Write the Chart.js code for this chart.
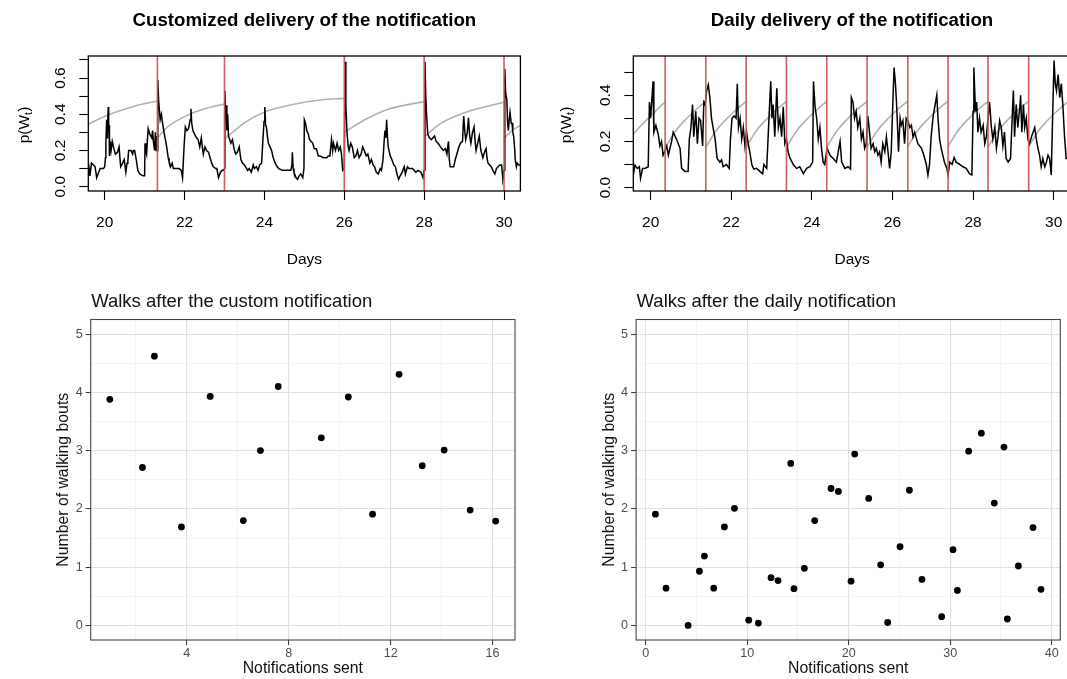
<!DOCTYPE html>
<html>
<head>
<meta charset="utf-8">
<title>Walking notifications</title>
<script src="https://cdn.jsdelivr.net/npm/chart.js@4.4.1/dist/chart.umd.min.js"></script>
<style>
  html, body { margin: 0; padding: 0; background: #fff; }
  body { position: relative; width: 1067px; height: 679px; overflow: hidden; }
  canvas { position: absolute; }
</style>
</head>
<body>
<canvas id="customProb" width="540" height="280" style="left:0;top:0"></canvas>
<canvas id="dailyProb" width="560" height="280" style="left:540px;top:0"></canvas>
<canvas id="customWalks" width="540" height="399" style="left:0;top:280px"></canvas>
<canvas id="dailyWalks" width="527" height="399" style="left:540px;top:280px"></canvas>
<script>
// === DATA ===
// p(W_t) with the customized schedule: [day, probability]
const customProb = [
  [19.59,0.07],[19.61,0.10],[19.63,0.06],[19.67,0.13],[19.72,0.12],[19.76,0.11],[19.80,0.05],[19.85,0.08],
  [19.89,0.10],[19.97,0.10],[20.00,0.11],[20.02,0.16],[20.03,0.25],[20.05,0.37],[20.06,0.27],[20.07,0.33],
  [20.09,0.44],[20.10,0.30],[20.11,0.34],[20.12,0.17],[20.14,0.25],[20.16,0.20],[20.19,0.25],[20.23,0.21],
  [20.27,0.18],[20.32,0.19],[20.36,0.22],[20.40,0.11],[20.45,0.13],[20.49,0.15],[20.53,0.08],[20.56,0.13],
  [20.58,0.14],[20.60,0.20],[20.66,0.20],[20.70,0.18],[20.72,0.20],[20.75,0.20],[20.79,0.15],[20.83,0.09],
  [20.88,0.07],[20.96,0.06],[21.00,0.06],[21.01,0.24],[21.03,0.20],[21.05,0.18],[21.07,0.26],[21.09,0.32],
  [21.13,0.29],[21.18,0.27],[21.20,0.31],[21.22,0.25],[21.25,0.20],[21.27,0.30],[21.29,0.20],[21.31,0.28],
  [21.32,0.20],[21.33,0.59],[21.35,0.48],[21.37,0.42],[21.39,0.37],[21.42,0.40],[21.45,0.35],[21.48,0.31],
  [21.50,0.28],[21.53,0.25],[21.56,0.21],[21.59,0.16],[21.61,0.14],[21.65,0.11],[21.69,0.13],[21.72,0.10],
  [21.80,0.10],[21.86,0.10],[21.92,0.09],[21.95,0.05],[21.99,0.23],[22.02,0.33],[22.06,0.31],[22.10,0.32],
  [22.14,0.37],[22.16,0.43],[22.18,0.35],[22.21,0.31],[22.25,0.29],[22.30,0.27],[22.34,0.26],[22.38,0.22],
  [22.42,0.27],[22.45,0.21],[22.47,0.18],[22.51,0.22],[22.55,0.20],[22.60,0.19],[22.64,0.16],[22.68,0.13],
  [22.72,0.11],[22.78,0.10],[22.81,0.10],[22.85,0.05],[22.90,0.08],[22.94,0.09],[22.98,0.09],[23.00,0.10],
  [23.01,0.53],[23.03,0.38],[23.04,0.45],[23.06,0.31],[23.08,0.40],[23.10,0.28],[23.13,0.26],[23.16,0.24],
  [23.20,0.26],[23.24,0.21],[23.28,0.18],[23.32,0.19],[23.37,0.22],[23.41,0.15],[23.45,0.13],[23.50,0.12],
  [23.58,0.09],[23.62,0.10],[23.67,0.08],[23.72,0.12],[23.75,0.10],[23.80,0.11],[23.84,0.09],[23.88,0.12],
  [23.93,0.13],[23.96,0.25],[23.99,0.36],[24.01,0.44],[24.03,0.34],[24.05,0.33],[24.08,0.27],[24.10,0.24],
  [24.14,0.22],[24.18,0.20],[24.22,0.16],[24.27,0.13],[24.32,0.11],[24.36,0.10],[24.45,0.09],[24.53,0.09],
  [24.60,0.09],[24.66,0.09],[24.69,0.12],[24.70,0.19],[24.72,0.10],[24.74,0.08],[24.79,0.05],[24.83,0.04],
  [24.87,0.06],[24.91,0.07],[24.96,0.05],[24.99,0.10],[25.00,0.37],[25.03,0.35],[25.06,0.31],[25.10,0.29],
  [25.13,0.26],[25.17,0.25],[25.21,0.24],[25.25,0.21],[25.30,0.21],[25.35,0.17],[25.39,0.17],[25.48,0.16],
  [25.56,0.16],[25.60,0.17],[25.64,0.17],[25.68,0.26],[25.71,0.20],[25.73,0.24],[25.78,0.20],[25.82,0.24],
  [25.86,0.20],[25.90,0.22],[25.93,0.18],[25.96,0.09],[26.00,0.10],[26.02,0.69],[26.04,0.45],[26.07,0.29],
  [26.10,0.22],[26.12,0.20],[26.16,0.24],[26.20,0.22],[26.25,0.16],[26.29,0.17],[26.33,0.20],[26.37,0.16],
  [26.42,0.18],[26.46,0.22],[26.50,0.20],[26.55,0.17],[26.59,0.18],[26.64,0.13],[26.68,0.15],[26.72,0.12],
  [26.76,0.11],[26.80,0.08],[26.85,0.07],[26.90,0.10],[26.93,0.09],[26.97,0.15],[27.00,0.26],[27.02,0.31],
  [27.04,0.27],[27.06,0.37],[27.08,0.28],[27.10,0.22],[27.15,0.17],[27.19,0.15],[27.24,0.12],[27.28,0.11],
  [27.32,0.07],[27.36,0.04],[27.40,0.06],[27.45,0.08],[27.50,0.11],[27.53,0.07],[27.58,0.11],[27.62,0.10],
  [27.71,0.10],[27.79,0.08],[27.85,0.09],[27.92,0.08],[27.97,0.05],[28.00,0.09],[28.02,0.69],[28.04,0.50],
  [28.06,0.40],[28.09,0.29],[28.13,0.27],[28.18,0.26],[28.22,0.27],[28.26,0.28],[28.30,0.25],[28.35,0.24],
  [28.41,0.22],[28.48,0.20],[28.53,0.21],[28.57,0.18],[28.59,0.22],[28.61,0.25],[28.63,0.15],[28.65,0.11],
  [28.70,0.11],[28.74,0.11],[28.78,0.15],[28.82,0.18],[28.87,0.22],[28.91,0.24],[28.96,0.25],[28.99,0.39],
  [29.02,0.30],[29.04,0.26],[29.08,0.30],[29.11,0.38],[29.14,0.28],[29.17,0.24],[29.21,0.30],[29.25,0.33],
  [29.28,0.24],[29.30,0.20],[29.34,0.24],[29.38,0.28],[29.42,0.20],[29.47,0.16],[29.51,0.19],[29.55,0.21],
  [29.58,0.15],[29.60,0.13],[29.64,0.12],[29.68,0.11],[29.72,0.09],[29.77,0.07],[29.81,0.10],[29.85,0.11],
  [29.90,0.12],[29.94,0.12],[29.97,0.04],[30.00,0.09],[30.02,0.65],[30.04,0.52],[30.07,0.48],[30.09,0.35],
  [30.11,0.31],[30.13,0.37],[30.15,0.41],[30.18,0.35],[30.20,0.35],[30.22,0.30],[30.24,0.28],[30.27,0.20],
  [30.28,0.15],[30.31,0.11],[30.33,0.13],[30.37,0.12],[30.41,0.12]
];

// gray curves between two customized notifications
const customBaseline = [
  [[19.59,0.345],[20.08,0.396],[20.71,0.442],[21.32,0.473]],
  [[21.32,0.270],[21.58,0.331],[22.00,0.387],[22.48,0.429],[23.00,0.457]],
  [[23.00,0.262],[23.48,0.350],[24.02,0.414],[24.74,0.455],[25.41,0.479],[26.00,0.488]],
  [[26.00,0.300],[26.50,0.368],[27.08,0.427],[28.00,0.470]],
  [[28.00,0.276],[28.42,0.350],[29.08,0.414],[30.00,0.466]],
  [[30.00,0.266],[30.20,0.310],[30.41,0.340]]
];
const customNotifications = [21.32, 23.0, 26.0, 28.0, 30.0];

// p(W_t) with one notification per day
const dailyProb = [
  [19.57,0.054],[19.61,0.097],[19.67,0.083],[19.72,0.090],[19.75,0.040],[19.80,0.083],[19.86,0.083],[19.94,0.090],
  [19.97,0.370],[20.00,0.300],[20.03,0.380],[20.06,0.460],[20.08,0.240],[20.13,0.270],[20.19,0.230],[20.23,0.180],
  [20.27,0.200],[20.31,0.140],[20.35,0.155],[20.40,0.180],[20.44,0.140],[20.48,0.170],[20.52,0.200],[20.56,0.240],
  [20.64,0.210],[20.73,0.170],[20.77,0.083],[20.85,0.070],[20.93,0.070],[20.96,0.210],[21.00,0.260],[21.04,0.360],
  [21.07,0.220],[21.12,0.330],[21.16,0.190],[21.20,0.300],[21.24,0.290],[21.29,0.180],[21.32,0.370],[21.35,0.360],
  [21.39,0.420],[21.43,0.445],[21.47,0.390],[21.51,0.300],[21.55,0.260],[21.60,0.210],[21.65,0.126],[21.72,0.110],
  [21.76,0.120],[21.80,0.090],[21.88,0.100],[21.95,0.083],[21.98,0.210],[22.02,0.300],[22.07,0.310],[22.12,0.300],
  [22.15,0.450],[22.18,0.260],[22.22,0.300],[22.26,0.210],[22.30,0.260],[22.34,0.180],[22.38,0.240],[22.42,0.190],
  [22.46,0.155],[22.51,0.100],[22.56,0.080],[22.63,0.083],[22.71,0.070],[22.78,0.060],[22.81,0.100],[22.88,0.083],
  [22.94,0.315],[22.98,0.460],[23.01,0.300],[23.04,0.360],[23.08,0.220],[23.13,0.430],[23.17,0.260],[23.21,0.300],
  [23.25,0.220],[23.29,0.350],[23.33,0.190],[23.37,0.210],[23.41,0.155],[23.46,0.126],[23.54,0.100],[23.62,0.083],
  [23.70,0.090],[23.79,0.060],[23.87,0.083],[23.95,0.090],[24.02,0.110],[24.04,0.460],[24.08,0.350],[24.12,0.300],
  [24.16,0.210],[24.20,0.260],[24.24,0.170],[24.28,0.110],[24.32,0.100],[24.38,0.170],[24.45,0.140],[24.53,0.126],
  [24.61,0.110],[24.70,0.200],[24.74,0.110],[24.82,0.083],[24.90,0.090],[24.96,0.080],[24.98,0.390],[25.02,0.370],
  [25.06,0.300],[25.10,0.330],[25.14,0.260],[25.19,0.300],[25.23,0.210],[25.27,0.240],[25.31,0.170],[25.35,0.190],
  [25.39,0.310],[25.43,0.240],[25.47,0.170],[25.52,0.190],[25.56,0.155],[25.60,0.170],[25.64,0.140],[25.68,0.155],
  [25.72,0.110],[25.76,0.190],[25.81,0.155],[25.85,0.220],[25.89,0.155],[25.93,0.083],[25.97,0.155],[26.01,0.370],
  [26.04,0.520],[26.07,0.460],[26.10,0.370],[26.12,0.290],[26.15,0.155],[26.19,0.300],[26.22,0.270],[26.26,0.290],
  [26.30,0.190],[26.34,0.300],[26.38,0.290],[26.43,0.260],[26.47,0.270],[26.51,0.220],[26.55,0.240],[26.63,0.190],
  [26.72,0.170],[26.78,0.140],[26.84,0.100],[26.88,0.054],[26.92,0.100],[26.96,0.220],[27.01,0.310],[27.06,0.360],
  [27.10,0.400],[27.13,0.300],[27.17,0.210],[27.21,0.170],[27.29,0.110],[27.35,0.083],[27.38,0.054],[27.42,0.110],
  [27.48,0.100],[27.53,0.130],[27.58,0.110],[27.67,0.100],[27.75,0.090],[27.83,0.083],[27.91,0.060],[27.97,0.054],
  [28.00,0.330],[28.02,0.520],[28.06,0.330],[28.09,0.370],[28.12,0.240],[28.16,0.300],[28.20,0.240],[28.25,0.270],
  [28.29,0.190],[28.33,0.220],[28.41,0.370],[28.45,0.270],[28.49,0.210],[28.54,0.260],[28.58,0.170],[28.62,0.220],
  [28.66,0.290],[28.70,0.260],[28.74,0.180],[28.78,0.240],[28.82,0.126],[28.87,0.110],[28.93,0.126],[28.97,0.300],
  [29.00,0.420],[29.03,0.220],[29.07,0.360],[29.11,0.260],[29.16,0.350],[29.18,0.400],[29.21,0.240],[29.25,0.360],
  [29.28,0.260],[29.32,0.300],[29.36,0.210],[29.40,0.190],[29.45,0.220],[29.49,0.240],[29.53,0.260],[29.57,0.210],
  [29.61,0.170],[29.65,0.140],[29.69,0.090],[29.73,0.126],[29.78,0.090],[29.82,0.110],[29.86,0.140],[29.90,0.126],
  [29.94,0.054],[29.98,0.350],[30.01,0.550],[30.04,0.450],[30.07,0.420],[30.11,0.490],[30.15,0.390],[30.19,0.450],
  [30.23,0.350],[30.27,0.220],[30.31,0.126],[30.36,0.130],[30.43,0.120]
];

// gray curves between two daily notifications
const dailyBaseline = [
  [[19.57,0.232],[19.77,0.270],[19.97,0.305],[20.17,0.340],[20.37,0.373]],
  [[20.37,0.175],[20.62,0.245],[20.87,0.295],[21.12,0.337],[21.37,0.373]],
  [[21.37,0.175],[21.62,0.245],[21.87,0.295],[22.12,0.337],[22.37,0.373]],
  [[22.37,0.175],[22.62,0.245],[22.87,0.295],[23.12,0.337],[23.37,0.373]],
  [[23.37,0.175],[23.62,0.245],[23.87,0.295],[24.12,0.337],[24.37,0.373]],
  [[24.37,0.175],[24.62,0.245],[24.87,0.295],[25.12,0.337],[25.37,0.373]],
  [[25.37,0.175],[25.62,0.245],[25.87,0.295],[26.12,0.337],[26.37,0.373]],
  [[26.37,0.175],[26.62,0.245],[26.87,0.295],[27.12,0.337],[27.37,0.373]],
  [[27.37,0.175],[27.62,0.245],[27.87,0.295],[28.12,0.337],[28.37,0.373]],
  [[28.37,0.175],[28.62,0.245],[28.87,0.295],[29.12,0.337],[29.37,0.373]],
  [[29.37,0.175],[29.62,0.245],[29.87,0.295],[30.12,0.337],[30.37,0.373],[30.43,0.380]]
];
const dailyNotifications = [20.36, 21.37, 22.37, 23.37, 24.37, 25.37, 26.38, 27.38, 28.37, 29.38];

const dayTicks = [20, 22, 24, 26, 28, 30];
const customProbTicks = [0, 0.1, 0.2, 0.3, 0.4, 0.5, 0.6, 0.7];
const customProbLabels = ['0.0', '', '0.2', '', '0.4', '', '0.6', ''];
const dailyProbTicks = [0, 0.1, 0.2, 0.3, 0.4, 0.5];
const dailyProbLabels = ['0.0', '', '0.2', '', '0.4', ''];

// walking bouts after each notification
const customSent = [0.98, 2.26, 2.73, 3.79, 4.92, 6.22, 6.89, 7.59, 9.28, 10.34, 11.29, 12.33, 13.24, 14.10, 15.12, 16.12];
const customBouts = [3.88, 2.71, 4.62, 1.69, 3.93, 1.80, 3.00, 4.10, 3.22, 3.92, 1.91, 4.31, 2.74, 3.01, 1.98, 1.79];
const dailySent = [0.95, 2.00, 4.17, 5.29, 5.78, 6.70, 7.75, 8.74, 10.15, 11.10, 12.35, 13.04, 14.29, 14.61, 15.63,
  16.65, 18.26, 18.98, 20.23, 20.59, 21.97, 23.15, 23.84, 25.06, 25.98, 27.22, 29.16, 30.28, 30.71, 31.82, 33.07,
  34.35, 35.30, 35.63, 36.72, 38.16, 38.95];
const dailyBouts = [1.91, 0.64, 0.00, 0.93, 1.19, 0.64, 1.69, 2.01, 0.09, 0.04, 0.82, 0.77, 2.78, 0.63, 0.98,
  1.80, 2.35, 2.30, 0.76, 2.94, 2.18, 1.04, 0.05, 1.35, 2.32, 0.79, 0.15, 1.30, 0.60, 2.99, 3.30,
  2.10, 3.06, 0.11, 1.02, 1.68, 0.62];

const boutTicks = [0, 0.5, 1, 1.5, 2, 2.5, 3, 3.5, 4, 4.5, 5];
const boutLabels = ['0', '', '1', '', '2', '', '3', '', '4', '', '5'];
const customSentTicks = [2, 4, 6, 8, 10, 12, 14, 16];
const customSentLabels = ['', '4', '', '8', '', '12', '', '16'];
const dailySentTicks = [0, 5, 10, 15, 20, 25, 30, 35, 40];
const dailySentLabels = ['0', '', '10', '', '20', '', '30', '', '40'];

Chart.defaults.font.family = "'Liberation Sans', Arial, Helvetica, sans-serif";

// Teks bebas di kanvas (judul panel, label sumbu dengan subskrip)
function drawLabel(ctx, t) {
  ctx.save();
  ctx.translate(t.x, t.y);
  if (t.rotate) ctx.rotate(-Math.PI / 2);
  ctx.fillStyle = t.color || '#000';
  ctx.textAlign = 'left';
  ctx.textBaseline = t.baseline || 'alphabetic';
  const parts = t.parts || [{ text: t.text }];
  let total = 0;
  parts.forEach(p => {
    ctx.font = p.sub ? t.subFont : t.font;
    p.w = ctx.measureText(p.text).width;
    total += p.w;
  });
  let x = t.align === 'center' ? -total / 2 : 0;
  parts.forEach(p => {
    ctx.font = p.sub ? t.subFont : t.font;
    ctx.fillText(p.text, x, p.sub ? 4 : 0);
    x += p.w;
  });
  ctx.restore();
}

// Kotak panel, garis notifikasi, dan teks tambahan
const panelDecor = {
  id: 'panelDecor',
  afterDatasetsDraw(chart, args, opts) {
    const { ctx, chartArea: a } = chart;
    const xs = chart.scales.x;
    ctx.save();
    ctx.strokeStyle = opts.markColor;
    ctx.lineWidth = 1.6;
    (opts.marks || []).forEach(d => {
      const x = xs.getPixelForValue(d);
      ctx.beginPath();
      ctx.moveTo(x, a.top);
      ctx.lineTo(x, a.bottom);
      ctx.stroke();
    });
    ctx.strokeStyle = opts.borderColor;
    ctx.lineWidth = opts.borderWidth;
    ctx.strokeRect(a.left, a.top, a.right - a.left, a.bottom - a.top);
    ctx.restore();
  },
  afterDraw(chart, args, opts) {
    (opts.texts || []).forEach(t => drawLabel(chart.ctx, t));
  }
};

const toPoints = arr => arr.map(p => ({ x: p[0], y: p[1] }));

// Panel atas: peluang berjalan p(W_t) per hari
function probChart(id, cfg) {
  const datasets = cfg.baseline.map(seg => ({
    data: toPoints(seg),
    borderColor: '#b0b0b0',
    borderWidth: 1.6,
    pointRadius: 0,
    cubicInterpolationMode: 'monotone',
    order: 2
  }));
  datasets.push({
    data: toPoints(cfg.series),
    borderColor: '#000',
    borderWidth: 1.5,
    pointRadius: 0,
    tension: 0,
    order: 1
  });

  return new Chart(document.getElementById(id), {
    type: 'line',
    data: { datasets: datasets },
    options: {
      responsive: false,
      animation: false,
      events: [],
      layout: { padding: { left: 0, top: 56, right: cfg.padRight, bottom: 0 } },
      plugins: {
        legend: { display: false },
        tooltip: { enabled: false },
        panelDecor: {
          marks: cfg.marks,
          markColor: 'rgba(205, 85, 85, 0.95)',
          borderColor: '#000',
          borderWidth: 1.3,
          texts: [
            { text: cfg.title, x: cfg.titleX, y: 26, font: 'bold 18.7px "Liberation Sans", Arial', align: 'center' },
            {
              parts: [{ text: 'p(W' }, { text: 't', sub: true }, { text: ')' }],
              x: cfg.ylabX, y: 125, rotate: true, align: 'center', baseline: 'middle',
              font: '15.5px "Liberation Sans", Arial', subFont: '11px "Liberation Sans", Arial'
            }
          ]
        }
      },
      scales: {
        x: {
          type: 'linear',
          min: cfg.xMin,
          max: cfg.xMax,
          afterFit: s => { s.height = 89; },
          afterBuildTicks: s => { s.ticks = dayTicks.map(v => ({ value: v })); },
          ticks: {
            autoSkip: false, maxRotation: 0, padding: 13,
            color: '#000', font: { size: 15.5 },
            callback: (v, i) => String(dayTicks[i])
          },
          grid: { drawOnChartArea: false, drawTicks: true, tickLength: 9, tickColor: '#000', tickWidth: 1.1 },
          border: { display: false },
          title: { display: true, text: 'Days', color: '#000', font: { size: 15.5 }, padding: { top: 0, bottom: 11 } }
        },
        y: {
          type: 'linear',
          min: cfg.yMin,
          max: cfg.yMax,
          afterFit: s => { s.width = cfg.axisWidth; },
          afterBuildTicks: s => { s.ticks = cfg.yTicks.map(v => ({ value: v })); },
          ticks: {
            autoSkip: false, minRotation: 90, maxRotation: 90, crossAlign: 'center', padding: 7.5,
            color: '#000', font: { size: 15.5 },
            callback: (v, i) => cfg.yLabels[i]
          },
          grid: { drawOnChartArea: false, drawTicks: true, tickLength: 9, tickColor: '#000', tickWidth: 1.1 },
          border: { display: false }
        }
      }
    },
    plugins: [panelDecor]
  });
}

// Panel bawah: jumlah jalan kaki per notifikasi (gaya ggplot)
function boutChart(id, cfg) {
  const gridFor = labels => ({
    drawTicks: true,
    tickLength: 5,
    color: c => labels[c.index] ? '#e0e0e0' : '#f0f0f0',
    lineWidth: c => labels[c.index] ? 1.1 : 0.8,
    tickColor: c => labels[c.index] ? '#333' : 'rgba(0,0,0,0)',
    tickWidth: 1
  });

  return new Chart(document.getElementById(id), {
    type: 'scatter',
    data: {
      datasets: [{
        data: cfg.sent.map((x, i) => ({ x: x, y: cfg.bouts[i] })),
        backgroundColor: '#000',
        borderWidth: 0,
        pointRadius: 3.4
      }]
    },
    options: {
      responsive: false,
      animation: false,
      events: [],
      layout: { padding: { left: 0, top: 39.5, right: cfg.padRight, bottom: 0 } },
      plugins: {
        legend: { display: false },
        tooltip: { enabled: false },
        panelDecor: {
          borderColor: '#444',
          borderWidth: 1.1,
          texts: [
            { text: cfg.title, x: cfg.axisWidth + 0.5, y: 26.7, font: '18.5px "Liberation Sans", Arial', color: '#111' }
          ]
        }
      },
      scales: {
        x: {
          type: 'linear',
          min: cfg.xMin,
          max: cfg.xMax,
          afterFit: s => { s.height = 39; },
          afterBuildTicks: s => { s.ticks = cfg.xTicks.map(v => ({ value: v })); },
          ticks: {
            autoSkip: false, maxRotation: 0, padding: 1,
            color: '#4d4d4d', font: { size: 12.6 },
            callback: (v, i) => cfg.xLabels[i]
          },
          grid: gridFor(cfg.xLabels),
          border: { display: false },
          title: { display: true, text: 'Notifications sent', color: '#111', font: { size: 15.8 }, padding: { top: 0, bottom: 1 } }
        },
        y: {
          type: 'linear',
          min: -0.25,
          max: 5.25,
          afterFit: s => { s.width = cfg.axisWidth; },
          afterBuildTicks: s => { s.ticks = boutTicks.map(v => ({ value: v })); },
          ticks: {
            autoSkip: false, padding: 3,
            color: '#4d4d4d', font: { size: 12.6 },
            callback: (v, i) => boutLabels[i]
          },
          grid: gridFor(boutLabels),
          border: { display: false },
          title: { display: true, text: 'Number of walking bouts', color: '#111', font: { size: 15.8 }, padding: { top: cfg.ytitlePad, bottom: 0 } }
        }
      }
    },
    plugins: [panelDecor]
  });
}

document.addEventListener('DOMContentLoaded', function () {
  probChart('customProb', {
    series: customProb, baseline: customBaseline, marks: customNotifications,
    title: 'Customized delivery of the notification', titleX: 304.4, ylabX: 25,
    xMin: 19.59, xMax: 30.41, yMin: -0.024, yMax: 0.722,
    yTicks: customProbTicks, yLabels: customProbLabels,
    axisWidth: 88.3, padRight: 19.6
  });

  probChart('dailyProb', {
    series: dailyProb, baseline: dailyBaseline, marks: dailyNotifications,
    title: 'Daily delivery of the notification', titleX: 312, ylabX: 27,
    xMin: 19.57, xMax: 30.43, yMin: -0.015, yMax: 0.57,
    yTicks: dailyProbTicks, yLabels: dailyProbLabels,
    axisWidth: 93.3, padRight: 29
  });

  boutChart('customWalks', {
    sent: customSent, bouts: customBouts,
    title: 'Walks after the custom notification',
    xMin: 0.23, xMax: 16.88, xTicks: customSentTicks, xLabels: customSentLabels,
    axisWidth: 90.7, padRight: 25, ytitlePad: 54.5
  });

  boutChart('dailyWalks', {
    sent: dailySent, bouts: dailyBouts,
    title: 'Walks after the daily notification',
    xMin: -0.95, xMax: 40.85, xTicks: dailySentTicks, xLabels: dailySentLabels,
    axisWidth: 96.1, padRight: 6.7, ytitlePad: 60
  });
});
</script>
</body>
</html>
